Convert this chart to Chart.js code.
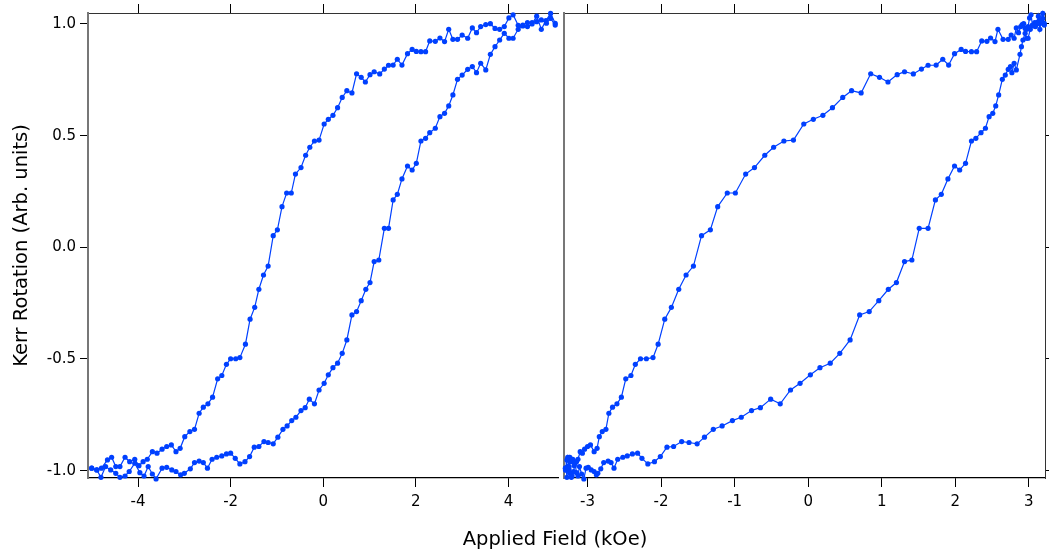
<!DOCTYPE html>
<html>
<head>
<meta charset="utf-8">
<script src="https://cdn.jsdelivr.net/npm/chart.js@4.4.0/dist/chart.umd.min.js"></script>
<style>
  body { margin: 0; background: #fff; width: 1049px; height: 554px; position: relative; overflow: hidden; }
  #wrapA { position: absolute; left: 0; top: 0; }
  #wrapB { position: absolute; left: 555px; top: 0; }
  #xTitle { position: absolute; left: 355px; width: 400px; top: 527px; text-align: center;
            font: 19.5px "DejaVu Sans"; color: #000; line-height: 24px; }
</style>
</head>
<body>
<div id="wrapA"><canvas id="loopA" width="562" height="554"></canvas></div>
<div id="wrapB"><canvas id="loopB" width="494" height="554"></canvas></div>
<div id="xTitle">Applied Field (kOe)</div>
<script>
// Kerr signal, same sweep shown in both panels
// down sweep: +H -> -H (upper branch)
const kerrDown = [
  1.003, 1.047, 1.015, 0.976, 1.035, 1.000, 0.988, 0.991, 0.994, 1.041,
  1.027, 0.988, 0.976, 0.980, 1.001, 0.997, 0.988, 0.961, 0.982, 0.936,
  0.950, 0.931, 0.931, 0.976, 0.921, 0.937, 0.922, 0.924, 0.876, 0.876,
  0.877, 0.886, 0.867, 0.816, 0.842, 0.816, 0.815, 0.798, 0.776, 0.786,
  0.773, 0.740, 0.761, 0.777, 0.691, 0.701, 0.671, 0.625, 0.591, 0.573,
  0.552, 0.480, 0.476, 0.448, 0.412, 0.357, 0.328, 0.243, 0.243, 0.182,
  0.078, 0.052, -0.084, -0.124, -0.188, -0.269, -0.322, -0.434, -0.494, -0.499,
  -0.499, -0.524, -0.574, -0.589, -0.671, -0.701, -0.716, -0.743, -0.815, -0.825,
  -0.848, -0.900, -0.915, -0.885, -0.892, -0.904, -0.922, -0.915, -0.949, -0.960,
  -0.978, -0.949, -0.960, -0.940, -0.982, -0.982, -0.940, -0.952, -0.989, -0.997, -0.989
];
// up sweep: -H -> +H (lower branch)
const kerrUp = [
  -0.989, -0.997, -1.030, -0.982, -0.997, -1.012, -1.030, -1.024, -1.004, -0.967,
  -1.009, -1.024, -0.982, -1.015, -1.037, -0.989, -0.985, -0.997, -1.004, -1.019,
  -1.012, -0.992, -0.964, -0.957, -0.964, -0.989, -0.949, -0.940, -0.934, -0.925,
  -0.922, -0.945, -0.970, -0.960, -0.937, -0.895, -0.892, -0.870, -0.874, -0.880,
  -0.850, -0.815, -0.800, -0.776, -0.761, -0.731, -0.718, -0.680, -0.701, -0.639,
  -0.609, -0.571, -0.539, -0.519, -0.475, -0.415, -0.303, -0.288, -0.239, -0.188,
  -0.158, -0.064, -0.057, 0.085, 0.085, 0.212, 0.237, 0.306, 0.364, 0.346,
  0.376, 0.476, 0.488, 0.513, 0.533, 0.585, 0.600, 0.633, 0.682, 0.752,
  0.771, 0.797, 0.809, 0.782, 0.824, 0.794, 0.864, 0.898, 0.928, 0.958,
  0.936, 0.936, 0.976, 0.995, 1.006, 1.006, 1.010, 1.018, 1.003, 1.025, 0.995
];

// Left panel field values (kOe)
const fieldDownA = [
  5.01, 4.91, 4.81, 4.71, 4.61, 4.51, 4.41, 4.31, 4.21, 4.10,
  4.01, 3.91, 3.81, 3.71, 3.61, 3.51, 3.40, 3.31, 3.22, 3.12,
  3.00, 2.90, 2.80, 2.71, 2.62, 2.52, 2.42, 2.30, 2.21, 2.11,
  2.01, 1.92, 1.82, 1.70, 1.60, 1.51, 1.41, 1.32, 1.22, 1.10,
  1.01, 0.91, 0.82, 0.72, 0.62, 0.51, 0.41, 0.31, 0.21, 0.11,
  0.02, -0.09, -0.19, -0.29, -0.38, -0.48, -0.60, -0.69, -0.79, -0.89,
  -0.99, -1.08, -1.19, -1.29, -1.39, -1.48, -1.58, -1.68, -1.80, -1.89,
  -2.00, -2.09, -2.19, -2.28, -2.39, -2.49, -2.59, -2.68, -2.78, -2.88,
  -2.99, -3.09, -3.18, -3.28, -3.38, -3.48, -3.59, -3.69, -3.80, -3.89,
  -3.98, -4.07, -4.18, -4.28, -4.39, -4.48, -4.57, -4.66, -4.79, -4.89, -5.00
];
const fieldUpA = [
  -5.00, -4.89, -4.80, -4.70, -4.59, -4.48, -4.39, -4.28, -4.19, -4.07,
  -3.96, -3.87, -3.78, -3.69, -3.61, -3.48, -3.38, -3.27, -3.18, -3.08,
  -3.00, -2.87, -2.78, -2.68, -2.59, -2.50, -2.40, -2.30, -2.19, -2.09,
  -2.00, -1.90, -1.80, -1.69, -1.59, -1.49, -1.39, -1.28, -1.19, -1.08,
  -0.98, -0.87, -0.78, -0.68, -0.59, -0.48, -0.39, -0.30, -0.19, -0.09,
  0.02, 0.11, 0.21, 0.31, 0.41, 0.51, 0.62, 0.72, 0.82, 0.92,
  1.01, 1.10, 1.20, 1.32, 1.41, 1.51, 1.60, 1.70, 1.82, 1.92,
  2.01, 2.11, 2.21, 2.30, 2.42, 2.52, 2.62, 2.71, 2.80, 2.90,
  3.00, 3.12, 3.22, 3.31, 3.40, 3.51, 3.61, 3.71, 3.81, 3.91,
  4.01, 4.10, 4.21, 4.31, 4.41, 4.51, 4.61, 4.71, 4.82, 4.91, 5.01
];

// Right panel field values (kOe)
const fieldDownB = [
  3.21, 3.19, 3.17, 3.15, 3.13, 3.11, 3.09, 3.07, 3.05, 3.03,
  3.01, 2.99, 2.97, 2.95, 2.93, 2.91, 2.89, 2.86, 2.83, 2.80,
  2.76, 2.72, 2.65, 2.58, 2.54, 2.48, 2.43, 2.36, 2.29, 2.22,
  2.14, 2.08, 1.99, 1.91, 1.83, 1.74, 1.63, 1.54, 1.43, 1.31,
  1.21, 1.085, 0.97, 0.85, 0.72, 0.59, 0.47, 0.33, 0.20, 0.07,
  -0.06, -0.20, -0.33, -0.47, -0.59, -0.73, -0.85, -0.99, -1.10, -1.23,
  -1.33, -1.45, -1.56, -1.66, -1.76, -1.86, -1.95, -2.04, -2.11, -2.20,
  -2.28, -2.35, -2.41, -2.48, -2.54, -2.60, -2.66, -2.71, -2.75, -2.80,
  -2.84, -2.87, -2.91, -2.96, -3.00, -3.04, -3.07, -3.10, -3.13, -3.15,
  -3.18, -3.20, -3.22, -3.24, -3.25, -3.26, -3.27, -3.28, -3.29, -3.30, -3.30
];
const fieldUpB = [
  -3.30, -3.29, -3.28, -3.27, -3.25, -3.24, -3.22, -3.21, -3.19, -3.17,
  -3.15, -3.13, -3.11, -3.08, -3.05, -3.02, -2.99, -2.95, -2.91, -2.88,
  -2.86, -2.82, -2.78, -2.72, -2.68, -2.64, -2.59, -2.52, -2.46, -2.39,
  -2.32, -2.26, -2.18, -2.09, -2.01, -1.92, -1.83, -1.72, -1.62, -1.51,
  -1.41, -1.29, -1.17, -1.03, -0.91, -0.77, -0.65, -0.51, -0.38, -0.24,
  -0.11, 0.03, 0.16, 0.30, 0.43, 0.57, 0.70, 0.83, 0.96, 1.09,
  1.20, 1.31, 1.41, 1.51, 1.63, 1.73, 1.81, 1.90, 1.99, 2.06,
  2.14, 2.22, 2.28, 2.35, 2.41, 2.46, 2.51, 2.55, 2.59, 2.64,
  2.68, 2.72, 2.75, 2.77, 2.80, 2.83, 2.88, 2.90, 2.92, 2.95,
  2.97, 2.99, 3.02, 3.05, 3.08, 3.11, 3.13, 3.15, 3.17, 3.19, 3.21
];

// tick labels
const fieldTicksA = [-4, -2, 0, 2, 4];
const fieldTicksB = [-3, -2, -1, 0, 1, 2, 3];
const kerrTicks = [-1, -0.5, 0, 0.5, 1];

const BLUE = "#0040ff";
const FONT = "DejaVu Sans";
const Y_MIN = -1.033, Y_MAX = 1.049;

function toPoints(xs, ys) {
  return xs.map((x, i) => ({ x: x, y: ys[i] }));
}

function loopDataset(xs, ys) {
  return {
    data: toPoints(xs, ys),
    showLine: true,
    borderColor: BLUE,
    borderWidth: 1.2,
    backgroundColor: BLUE,
    pointRadius: 2.6,
    pointBorderWidth: 0,
    pointBackgroundColor: BLUE,
    tension: 0,
    clip: false,
  };
}

function fixedTicks(values) {
  return (scale) => { scale.ticks = values.map((v) => ({ value: v })); };
}

function xAxes(xMin, xMax, ticks) {
  return {
    x: {
      type: "linear", position: "bottom", min: xMin, max: xMax,
      afterBuildTicks: fixedTicks(ticks),
      afterFit: (s) => { s.height = 76; },
      ticks: { color: "#000", font: { family: FONT, size: 15 }, padding: 6, maxRotation: 0,
               callback: (v) => String(v) },
      grid: { drawOnChartArea: false, tickLength: 9, color: "#000" },
      border: { color: "#000", width: 1.2 },
    },
    xTop: {
      type: "linear", position: "top", min: xMin, max: xMax,
      afterBuildTicks: fixedTicks(ticks),
      afterFit: (s) => { s.height = 9; },
      ticks: { display: false },
      grid: { drawOnChartArea: false, tickLength: 9, color: "#000" },
      border: { color: "#333", width: 1 },
    },
  };
}

// Left panel
const scalesA = xAxes(-5.08, 5.07, fieldTicksA);
scalesA.y = {
  type: "linear", position: "left", min: Y_MIN, max: Y_MAX,
  afterBuildTicks: fixedTicks(kerrTicks),
  afterFit: (s) => { s.width = 88; },
  ticks: { color: "#000", font: { family: FONT, size: 15 }, padding: 4,
           callback: (v) => v.toFixed(1) },
  grid: { drawOnChartArea: false, tickLength: 8, color: "#000" },
  border: { color: "#777", width: 2 },
  title: { display: true, text: "Kerr Rotation (Arb. units)", color: "#000",
           font: { family: FONT, size: 19.5 }, padding: { top: 10, bottom: 0 } },
};

const chartA = new Chart(document.getElementById("loopA"), {
  type: "scatter",
  data: { datasets: [loopDataset(fieldDownA, kerrDown), loopDataset(fieldUpA, kerrUp)] },
  options: {
    responsive: false, animation: false, devicePixelRatio: 1,
    layout: { padding: { top: 4, right: 1, bottom: 0, left: 0 } },
    plugins: { legend: { display: false }, tooltip: { enabled: false } },
    scales: scalesA,
  },
});

// Right panel
const scalesB = xAxes(-3.32, 3.22, fieldTicksB);
scalesB.y = {
  type: "linear", position: "left", min: Y_MIN, max: Y_MAX,
  afterBuildTicks: fixedTicks(kerrTicks),
  afterFit: (s) => { s.width = 9; },
  ticks: { display: false },
  grid: { display: false },
  border: { color: "#777", width: 2 },
};
scalesB.yRight = {
  type: "linear", position: "right", min: Y_MIN, max: Y_MAX,
  afterBuildTicks: fixedTicks(kerrTicks),
  afterFit: (s) => { s.width = 1; },
  ticks: { display: false },
  grid: { drawOnChartArea: false, tickLength: 8, color: "#000" },
  border: { color: "#333", width: 1 },
};

const chartB = new Chart(document.getElementById("loopB"), {
  type: "scatter",
  data: { datasets: [loopDataset(fieldDownB, kerrDown), loopDataset(fieldUpB, kerrUp)] },
  options: {
    responsive: false, animation: false, devicePixelRatio: 1,
    layout: { padding: { top: 4, right: 0, bottom: 0, left: 0 } },
    plugins: { legend: { display: false }, tooltip: { enabled: false } },
    scales: scalesB,
  },
});
</script>
</body>
</html>
